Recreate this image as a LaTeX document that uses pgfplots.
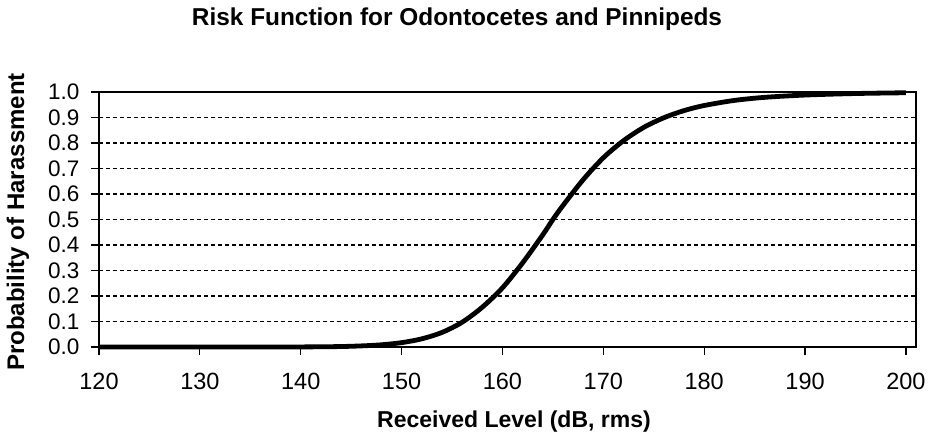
\documentclass[border=0pt]{standalone}
\usepackage{pgfplots}
\pgfplotsset{compat=1.18}
\usepackage{fontspec}
\setmainfont{Liberation Sans}
\begin{document}
\begin{tikzpicture}
\useasboundingbox (0pt,0pt) rectangle (935pt,443pt);
\begin{axis}[
  at={(99pt,96pt)}, anchor=south west,
  scale only axis, width=817pt, height=255pt,
  xmin=120, xmax=201, ymin=0, ymax=1,
  xtick={120,130,140,150,160,170,180,190,200},
  ytick={0,0.1,0.2,0.3,0.4,0.5,0.6,0.7,0.8,0.9,1.0},
  xtick pos=bottom, ytick pos=left,
  tick align=outside, major tick length=8pt,
  tick style={black, line width=1.2pt},
  axis line style={black, line width=2pt},
  ymajorgrids=true,
  major grid style={black, line width=1.1pt, dash pattern=on 4pt off 3pt},
  /pgf/number format/assume math mode=true,
  yticklabel style={/pgf/number format/fixed, /pgf/number format/fixed zerofill, /pgf/number format/precision=1, font=\fontsize{22.5}{22.5}\selectfont, xshift=-8pt},
  xticklabel style={font=\fontsize{23.5}{23.5}\selectfont, yshift=-15pt},
  clip=false,
]
\addplot[black, line width=4.8pt, smooth] coordinates {
(120,0) (125,0) (130,0) (135,0.0000) (140,0.0003) (143,0.0012) (145,0.0028) (147,0.006) (148,0.0086) (150,0.017) (152,0.032) (154,0.057) (156,0.097) (158,0.156) (160,0.232) (162,0.330) (164,0.440) (165,0.5) (166,0.555) (168,0.656) (170,0.742) (172,0.809) (174,0.861) (176,0.899) (178,0.927) (180,0.947) (183,0.967) (186,0.979) (190,0.988) (195,0.994) (200,0.997)
};
\end{axis}
\node[font=\fontsize{24.4}{24.4}\selectfont\bfseries] at (457pt,424pt) {Risk Function for Odontocetes and Pinnipeds};
\node[font=\fontsize{23}{23}\selectfont\bfseries] at (514pt,21pt) {Received Level (dB, rms)};
\node[font=\fontsize{24}{24}\selectfont\bfseries, rotate=90] at (18pt,221pt) {Probability of Harassment};
\end{tikzpicture}
\end{document}
